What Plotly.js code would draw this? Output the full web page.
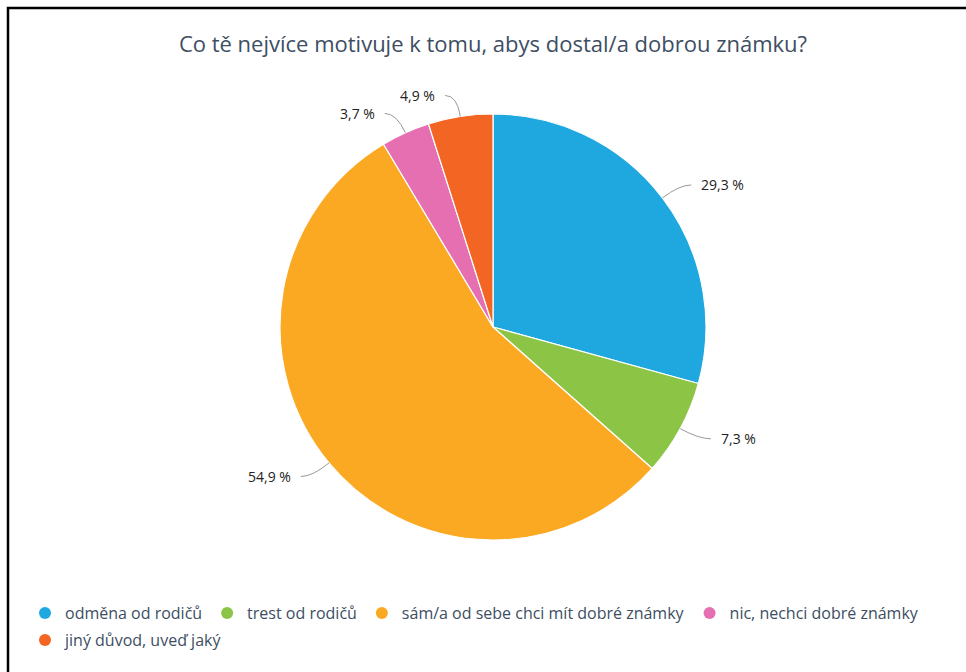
<!DOCTYPE html>
<html>
<head>
<meta charset="utf-8">
<script src="https://cdn.plot.ly/plotly-3.0.1.min.js"></script>
<style>html,body{margin:0;padding:0;background:#fff;}#chart{width:966px;height:672px;}</style>
</head>
<body>
<div id="chart"></div>
<script>
const titleText = 'Co tě nejvíce motivuje k tomu, abys dostal/a dobrou známku?';
const categories = ['odměna od rodičů', 'trest od rodičů', 'sám/a od sebe chci mít dobré známky', 'nic, nechci dobré známky', 'jiný důvod, uveď jaký'];
const values = [29.3, 7.3, 54.9, 3.7, 4.9];
const colors = ['#1fa8e0', '#8cc545', '#fba923', '#e56fb0', '#f26522'];

const W = 966, H = 672;
const cx = 493, cy = 327, R = 213;
const px = x => x / W;
const py = y => 1 - y / H;

const pie = {
  type: 'pie',
  labels: categories,
  values: values,
  sort: false,
  direction: 'clockwise',
  rotation: 0,
  textinfo: 'none',
  hoverinfo: 'label+percent',
  marker: {colors: colors, line: {color: '#ffffff', width: 1.2}},
  domain: {x: [px(cx - R), px(cx + R)], y: [py(cy + R), py(cy - R)]},
  showlegend: false
};

const legendTraces = categories.map((c, i) => ({
  type: 'scatter', mode: 'markers', x: [null], y: [null], name: c,
  marker: {color: colors[i], size: 12, symbol: 'circle'},
  hoverinfo: 'skip', showlegend: true,
  legend: i < 4 ? 'legend' : 'legend2'
}));

const total = values.reduce((a, b) => a + b, 0);
const shapes = [{
  type: 'path', xref: 'paper', yref: 'paper',
  path: `M ${px(8)} ${py(H)} L ${px(8)} ${py(8)} L ${px(W)} ${py(8)}`,
  line: {color: '#000', width: 2.5}
}];
const annotations = [];
let cum = 0;
values.forEach((v, i) => {
  const f = (cum + v / 2) / total;
  cum += v;
  const th = 2 * Math.PI * f;
  const s = Math.sin(th), c = Math.cos(th);
  const x0 = cx + R * s, y0 = cy - R * c;
  const x1 = cx + 1.1 * R * s, y1 = cy - 1.1 * R * c;
  const dir = s >= 0 ? 1 : -1;
  const x2 = x1 + dir * 12;
  shapes.push({
    type: 'path', xref: 'paper', yref: 'paper',
    path: `M ${px(x0)} ${py(y0)} Q ${px(x1)} ${py(y1)} ${px(x2)} ${py(y1)}`,
    line: {color: '#999', width: 1}
  });
  annotations.push({
    xref: 'paper', yref: 'paper', x: px(x2 + dir * 8), y: py(y1),
    xanchor: dir > 0 ? 'left' : 'right', yanchor: 'middle',
    text: v.toFixed(1).replace('.', ',') + ' %', showarrow: false,
    font: {family: 'Open Sans', size: 14, color: '#222'}
  });
});

const legFont = {family: 'Open Sans', size: 16, color: '#3d4e63'};
const layout = {
  width: W, height: H,
  margin: {l: 0, r: 0, t: 0, b: 0},
  paper_bgcolor: '#fff', plot_bgcolor: '#fff',
  title: {text: titleText, x: px(cx), xanchor: 'center', y: py(44), yanchor: 'middle',
          font: {family: 'Open Sans', size: 22, color: '#3d4e63'}},
  xaxis: {visible: false}, yaxis: {visible: false},
  showlegend: true,
  legend: {orientation: 'h', x: px(25), xanchor: 'left', y: py(613), yanchor: 'middle',
           font: legFont, bgcolor: 'rgba(0,0,0,0)'},
  legend2: {orientation: 'h', x: px(25), xanchor: 'left', y: py(640), yanchor: 'middle',
           font: legFont, bgcolor: 'rgba(0,0,0,0)'},
  shapes: shapes,
  annotations: annotations
};

Plotly.newPlot('chart', [pie].concat(legendTraces), layout, {displayModeBar: false, staticPlot: true});
</script>
</body>
</html>
